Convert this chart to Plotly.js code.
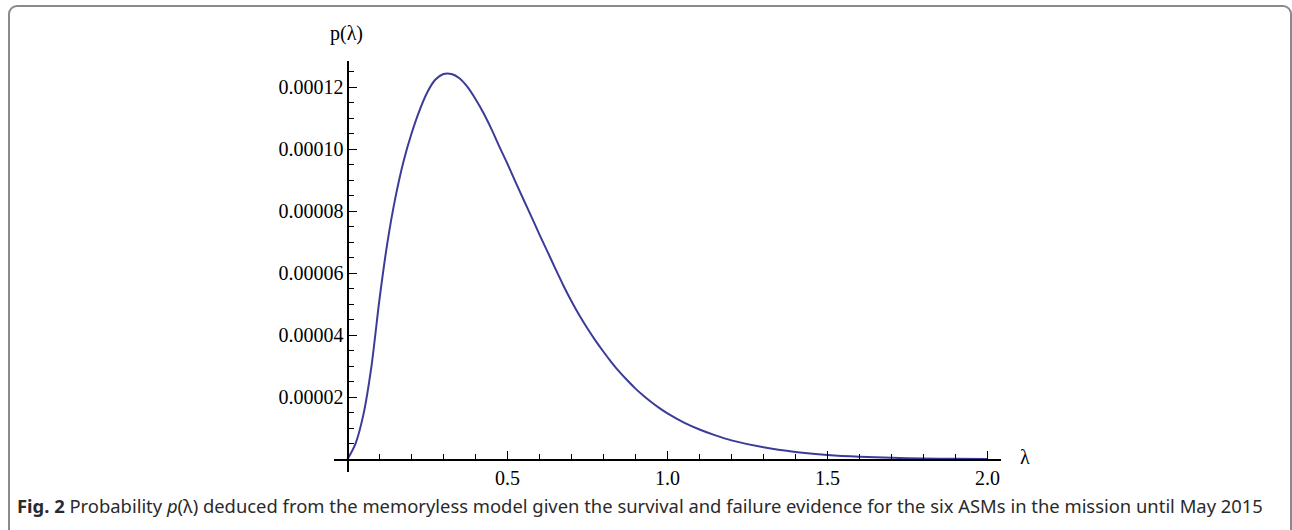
<!DOCTYPE html>
<html>
<head>
<meta charset="utf-8">
<script src="https://cdn.plot.ly/plotly-3.0.1.min.js"></script>
<style>
  html, body { margin: 0; padding: 0; background: #ffffff; overflow: hidden; }
  #frame { position: absolute; left: 8px; top: 5px; width: 1284px; height: 600px;
           box-sizing: border-box; border: 2px solid #8a8a8a; border-radius: 9px; }
  #chart { position: absolute; left: 0; top: 0; width: 1292px; height: 530px; }
</style>
</head>
<body>
<div id="frame"></div>
<div id="chart"></div>
<script>
// ---- data ----
const lambdaVals = [0, 0.025, 0.05, 0.075, 0.1, 0.125, 0.15, 0.175, 0.2, 0.225, 0.25, 0.275,
  0.3, 0.325, 0.35, 0.375, 0.4, 0.425, 0.45, 0.475, 0.5, 0.525, 0.55, 0.575, 0.6, 0.625, 0.65,
  0.675, 0.7, 0.725, 0.75, 0.775, 0.8, 0.825, 0.85, 0.875, 0.9, 0.925, 0.95, 0.975, 1.0,
  1.05, 1.1, 1.15, 1.2, 1.3, 1.4, 1.5, 1.6, 1.7, 1.8, 1.9, 2.0];
const pVals = [0, 5.0e-6, 1.45e-5, 3.0e-5, 5.15e-5, 7.0e-5, 8.45e-5, 9.6e-5, 1.05e-4, 1.125e-4,
  1.185e-4, 1.225e-4, 1.243e-4, 1.243e-4, 1.229e-4, 1.201e-4, 1.162e-4, 1.117e-4, 1.065e-4,
  1.008e-4, 9.53e-5, 8.95e-5, 8.38e-5, 7.82e-5, 7.25e-5, 6.70e-5, 6.14e-5,
  5.60e-5, 5.10e-5, 4.64e-5, 4.22e-5, 3.83e-5, 3.47e-5, 3.13e-5, 2.82e-5, 2.54e-5, 2.28e-5,
  2.05e-5, 1.84e-5, 1.65e-5, 1.48e-5,
  1.19e-5, 9.6e-6, 7.7e-6, 6.1e-6, 3.85e-6, 2.35e-6, 1.4e-6, 8.2e-7, 4.7e-7,
  2.6e-7, 1.45e-7, 8.0e-8];
const xTickVals = [0.5, 1.0, 1.5, 2.0];
const xTickText = ['0.5', '1.0', '1.5', '2.0'];
const yTickVals = [0.00002, 0.00004, 0.00006, 0.00008, 0.00010, 0.00012];
const yTickText = ['0.00002', '0.00004', '0.00006', '0.00008', '0.00010', '0.00012'];
const xLabel = 'λ';
const yLabel = 'p(λ)';
const captionText = '<b>Fig. 2</b> Probability <i>p</i>(λ) deduced from the memoryless model given the survival and failure evidence for the six ASMs in the mission until May 2015';

// ---- layout geometry ----
const W = 1292, H = 530;
const M = {l: 334, r: 291, t: 61, b: 58};
const xRange = [-0.042, 2.042];
const yRange = [-0.0000041, 0.00012848];
const plotW = W - M.l - M.r, plotH = H - M.t - M.b;
const pxToPaperX = px => (px - M.l) / plotW;
const pxToPaperY = py => (H - M.b - py) / plotH;

const serif = 'Liberation Serif, Times New Roman, serif';
const tickFont = {family: serif, size: 20, color: '#000'};

const trace = {
  x: lambdaVals, y: pVals, type: 'scatter', mode: 'lines',
  line: {color: '#3c3c98', width: 2, shape: 'spline', smoothing: 0.8},
  hoverinfo: 'skip'
};

const layout = {
  width: W, height: H,
  margin: M,
  paper_bgcolor: 'rgba(0,0,0,0)', plot_bgcolor: 'rgba(0,0,0,0)',
  showlegend: false,
  xaxis: {
    range: xRange, anchor: 'free',
    position: (0 - yRange[0]) / (yRange[1] - yRange[0]),
    showline: true, linecolor: '#000', linewidth: 1.3,
    showgrid: false, zeroline: false,
    tickmode: 'array', tickvals: xTickVals, ticktext: xTickText,
    ticks: 'inside', ticklen: 8, tickwidth: 1.2, tickcolor: '#000',
    tickfont: tickFont,
    minor: {tickmode: 'linear', tick0: 0, dtick: 0.1, ticks: 'inside', ticklen: 5, tickwidth: 1.1, tickcolor: '#000', showgrid: false}
  },
  yaxis: {
    range: yRange, anchor: 'free',
    position: (0 - xRange[0]) / (xRange[1] - xRange[0]),
    showline: true, linecolor: '#000', linewidth: 1.3,
    showgrid: false, zeroline: false,
    tickmode: 'array', tickvals: yTickVals, ticktext: yTickText,
    ticks: 'inside', ticklen: 8, tickwidth: 1.2, tickcolor: '#000',
    tickfont: tickFont,
    minor: {tickmode: 'linear', tick0: 0, dtick: 0.000005, ticks: 'inside', ticklen: 5, tickwidth: 1.1, tickcolor: '#000', showgrid: false}
  },
  annotations: [
    {text: yLabel, xref: 'paper', yref: 'paper', x: pxToPaperX(346), y: pxToPaperY(33),
     xanchor: 'center', yanchor: 'middle', showarrow: false, font: {family: serif, size: 20, color: '#000'}},
    {text: xLabel, xref: 'paper', yref: 'paper', x: pxToPaperX(1025), y: pxToPaperY(457),
     xanchor: 'center', yanchor: 'middle', showarrow: false, font: {family: serif, size: 20, color: '#000'}},
    {text: captionText, xref: 'paper', yref: 'paper', x: pxToPaperX(15), y: pxToPaperY(505),
     xanchor: 'left', yanchor: 'middle', showarrow: false, align: 'left',
     font: {family: 'Noto Sans, Open Sans, sans-serif', size: 18.4, color: '#2a2a2a'}}
  ]
};

Plotly.newPlot('chart', [trace], layout, {displayModeBar: false, staticPlot: true});
</script>
</body>
</html>
